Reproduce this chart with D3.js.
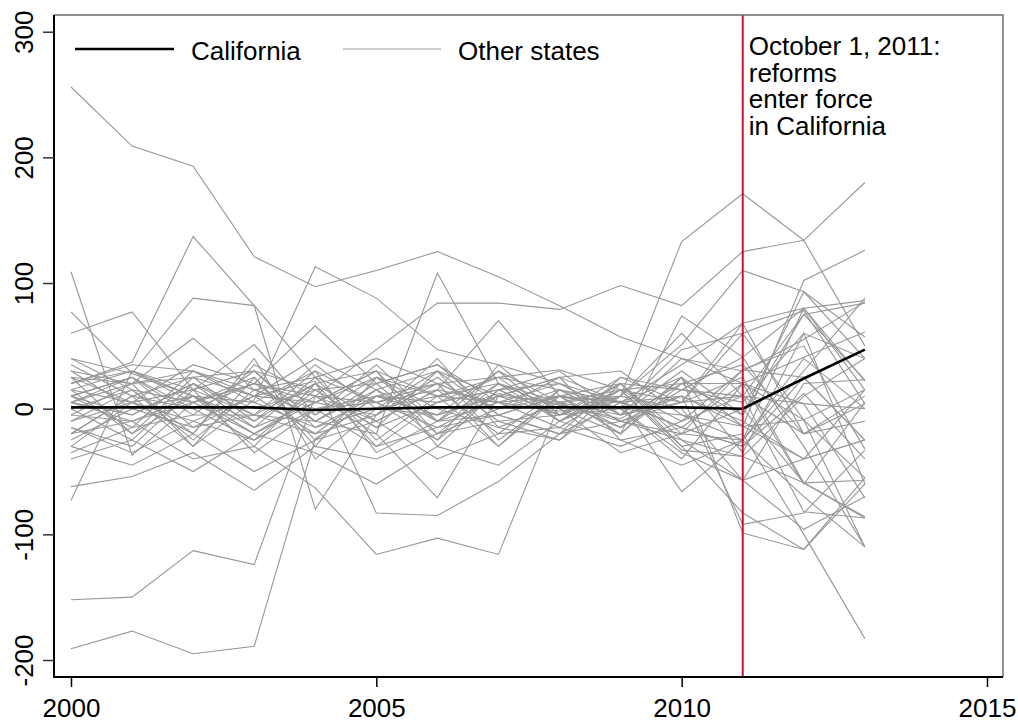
<!DOCTYPE html>
<html lang="en">
<head>
  <meta charset="UTF-8">
  <title>California vs other states</title>
  <script src="https://d3js.org/d3.v7.min.js"></script>
  <style>
    body { margin: 0; background: #fff; }
    text { font-family: "Liberation Sans", Arial, sans-serif; }
  </style>
</head>
<body>
  <script>
    // years on the x axis
    const years = d3.range(2000, 2014);
    const xTicks = [2000, 2005, 2010, 2015];
    const yTicks = [-200, -100, 0, 100, 200, 300];
    const reformYear = 2011;
    const noteLines = ["October 1, 2011:", "reforms", "enter force", "in California"];

    // California (black line)
    const california = [1, 1, 1, 1, -1, 0, 1, 1, 1, 1, 1, 0, 24, 47];

    // other states, one array per state, 2000..2013
    const otherStates = [
      [256, 209, 193, 121, 97, 110, 125, 105, 82, 57, 40, 30, 55, 85],
      [-191, -177, -195, -189, -24, 10, -5, 12, 3, -8, 20, 35, -20, 10],
      [-152, -150, -113, -124, 10, -10, 15, 5, -2, 6, -15, -30, 12, -40],
      [109, -37, 5, 20, -10, 15, 30, -5, 10, -20, 25, -35, 60, -60],
      [20, 37, 137, 82, -80, -5, 20, -30, 10, 0, -40, 20, -60, 5],
      [40, 28, 88, 82, 25, 5, -15, 10, 25, 5, -66, -25, -70, -110],
      [60, 77, 15, 30, -10, 20, -20, 0, 15, -10, 5, 68, 80, 22],
      [77, 28, 10, -10, 20, -30, 5, 15, -5, 10, 51, 110, 93, 57],
      [-20, 10, -30, 7, 113, 88, 47, 35, 20, -5, 10, -10, -40, -25],
      [10, -5, 20, -5, -10, -20, 108, 20, -10, 15, 5, 60, -9, -110],
      [15, 30, 5, 20, 10, 47, 84, 84, 79, 98, 82, 125, 134, 50],
      [5, 20, 30, 10, 40, 15, -10, 20, 5, 10, 133, 171, 134, 180],
      [-73, 30, 10, -15, 5, 25, -10, 30, 5, -15, 25, -14, 102, 126],
      [-62, -54, -35, -65, -30, -40, -20, -10, -5, 15, -33, -38, -59, -86],
      [-20, -10, -40, -30, -63, -116, -103, -116, 4, -10, -25, -57, -96, -70],
      [30, 20, 25, 10, 22, -83, -85, -58, -20, 5, 10, -92, -83, -33],
      [0, 15, -20, 35, 10, -20, -71, 10, -5, 20, -30, -83, -112, -55],
      [10, 25, 0, 20, 66, 20, 35, -5, 10, -20, 74, 41, 80, 86],
      [25, 20, 56, 15, 0, 10, 5, 15, -5, 0, 47, 60, 78, 4],
      [-10, 5, 15, 51, -5, 25, 10, 20, 0, -35, -20, 31, 25, -25],
      [-5, -10, 5, -20, 10, 5, 15, 70, 10, 5, 25, -99, -112, -60],
      [5, -10, 10, 5, -15, 0, -5, 10, 5, 15, -30, -20, -100, -183],
      [20, 35, 30, 15, 25, 40, 20, 25, 31, 15, 20, 20, 41, 61],
      [-30, -45, -20, -50, -25, -10, -40, -20, -15, -30, -10, 10, -82, -87],
      [15, -20, 25, -10, 30, 5, -25, 15, 20, -5, 30, -5, 93, 40],
      [-40, -25, -50, -20, -35, -60, -30, -45, -10, -25, -45, -25, 80, 15],
      [35, 10, 25, 30, 15, 20, 35, 5, 10, 20, 15, 10, 75, 84],
      [-15, -35, -10, -25, 0, -30, -15, -5, -20, -10, -20, 0, -59, -57],
      [25, 5, 35, 20, 5, 30, 10, 25, 15, 5, -15, 20, 4, -71],
      [-25, 0, -15, 10, -20, -5, 25, -10, -25, 10, 0, -57, 20, 23],
      [10, 25, -5, 30, -15, 10, 20, 0, 10, -15, 15, 41, -30, -110],
      [5, -5, 20, 0, 15, -15, 5, 25, -10, 20, -25, -38, 10, 40],
      [-10, 15, -25, 15, -5, 35, -10, 5, 20, 5, 35, 68, -20, -10],
      [30, 0, 10, -30, 20, -10, 15, -20, 15, -10, 10, -14, -40, -25],
      [-35, -15, -5, -5, -20, 15, -25, 35, -5, 25, 5, 10, 4, 0],
      [20, 30, 15, -5, 35, 0, 30, 10, 25, 30, -5, -25, 30, 88],
      [-5, 20, -30, 25, -30, 25, 0, -15, 5, -5, 40, 20, -9, 15],
      [0, -25, 20, -15, 25, -25, 10, 5, -15, 15, -10, 31, 50, -32],
      [15, 5, -10, 10, 5, 30, -20, 20, 0, -20, 20, -5, 75, 23],
      [-20, 10, 0, -25, 15, -15, 30, -25, 10, 0, -5, -14, -9, -55],
      [40, 15, 5, 25, -25, 10, -5, 30, -10, 10, 60, 10, -20, 4],
      [-15, -30, 15, -35, 0, 5, 20, 0, 25, -25, -15, -30, 25, -25],
      [10, -15, 30, 5, 30, -35, -10, -5, -20, 25, 15, 5, 60, 40],
      [-30, 5, -20, 40, -40, 0, 10, -30, 15, 0, -35, -57, -40, 15],
      [5, 25, -15, -5, 20, 30, -30, 15, 30, -5, 5, 25, -59, -87],
      [25, -20, 10, -20, 5, -5, 40, -15, -25, 20, -20, -25, 40, 0]
    ];

    const width = 1018, height = 723;
    const frame = { left: 54, right: 1003, top: 15, bottom: 677 };

    const svg = d3.select("body").append("svg")
      .attr("width", width)
      .attr("height", height);

    const x = d3.scaleLinear().domain([2000, 2015]).range([71, 987]);
    const y = d3.scaleLinear().domain([-200, 300]).range([660, 31.7]);

    const line = d3.line()
      .x((d, i) => x(years[i]))
      .y(d => y(d));

    // other states
    svg.append("g")
      .selectAll("path")
      .data(otherStates)
      .enter()
      .append("path")
      .attr("d", line)
      .style("fill", "none")
      .style("stroke", "#979797")
      .style("stroke-width", 1.1);

    // California
    svg.append("path")
      .datum(california)
      .attr("d", line)
      .style("fill", "none")
      .style("stroke", "#000")
      .style("stroke-width", 2.6);

    // reform date
    svg.append("line")
      .attr("x1", x(reformYear)).attr("x2", x(reformYear))
      .attr("y1", frame.top).attr("y2", frame.bottom)
      .style("stroke", "#c8103a")
      .style("stroke-width", 2);

    svg.append("text")
      .attr("x", x(reformYear) + 6)
      .attr("y", 55)
      .style("font-size", "26px")
      .selectAll("tspan")
      .data(noteLines)
      .enter()
      .append("tspan")
      .attr("x", x(reformYear) + 6)
      .attr("dy", (d, i) => i === 0 ? 0 : 26.7)
      .text(d => d);

    // frame: top/right grey, left/bottom black
    svg.append("path")
      .attr("d", `M${frame.left},${frame.top}H${frame.right}V${frame.bottom}`)
      .style("fill", "none")
      .style("stroke", "#6e6e6e")
      .style("stroke-width", 1.5);
    svg.append("path")
      .attr("d", `M${frame.left},${frame.top}V${frame.bottom}H${frame.right}`)
      .style("fill", "none")
      .style("stroke", "#000")
      .style("stroke-width", 2);

    // y axis (plain hyphen minus, as in the original)
    const yAxis = svg.append("g")
      .attr("transform", `translate(${frame.left},0)`)
      .call(d3.axisLeft(y).tickValues(yTicks).tickFormat(d => String(d)).tickSize(11).tickPadding(0));
    yAxis.select(".domain").remove();
    yAxis.selectAll("line").style("stroke", "#333").style("stroke-width", 1.5);
    yAxis.selectAll("text")
      .attr("x", null).attr("dy", null)
      .attr("transform", "translate(-21,0) rotate(-90)")
      .style("text-anchor", "middle")
      .style("font-size", "26px")
      .style("fill", "#000");

    // x axis
    const xAxis = svg.append("g")
      .attr("transform", `translate(0,${frame.bottom})`)
      .call(d3.axisBottom(x).tickValues(xTicks).tickFormat(d => String(d)).tickSize(10).tickPadding(0));
    xAxis.select(".domain").remove();
    xAxis.selectAll("line").style("stroke", "#000").style("stroke-width", 1.5);
    xAxis.selectAll("text")
      .attr("y", 40).attr("dy", null)
      .style("font-size", "26px")
      .style("fill", "#000");

    // legend
    const legend = svg.append("g");
    legend.append("line")
      .attr("x1", 75).attr("x2", 174).attr("y1", 49).attr("y2", 49)
      .style("stroke", "#000").style("stroke-width", 2.6);
    legend.append("text").attr("x", 191).attr("y", 60)
      .style("font-size", "26px").text("California");
    legend.append("line")
      .attr("x1", 343).attr("x2", 441).attr("y1", 49).attr("y2", 49)
      .style("stroke", "#979797").style("stroke-width", 1.1);
    legend.append("text").attr("x", 458).attr("y", 60)
      .style("font-size", "26px").text("Other states");
  </script>
</body>
</html>
